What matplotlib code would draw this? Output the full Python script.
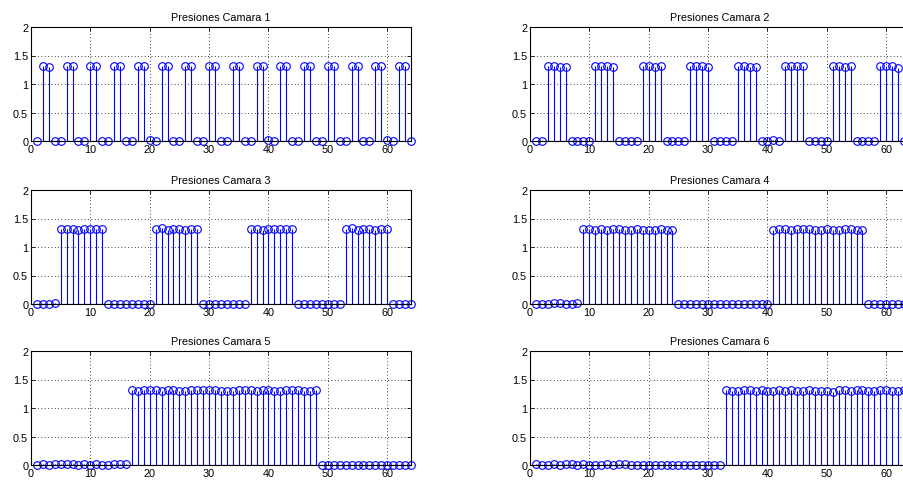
import matplotlib

matplotlib.use("Agg")
import matplotlib.pyplot as plt

# sample index 1..64 (same for all six chambers)
muestras = list(range(1, 65))

camara_1 = [0.00, 1.31, 1.29, 0.00, 0.00, 1.31, 1.31, 0.00,
            0.00, 1.31, 1.31, 0.00, 0.00, 1.31, 1.31, 0.00,
            0.00, 1.31, 1.31, 0.01, 0.00, 1.31, 1.31, 0.00,
            0.00, 1.31, 1.31, 0.00, 0.00, 1.31, 1.31, 0.00,
            0.00, 1.31, 1.31, 0.00, 0.00, 1.31, 1.31, 0.01,
            0.00, 1.31, 1.31, 0.00, 0.00, 1.31, 1.31, 0.00,
            0.00, 1.31, 1.31, 0.00, 0.00, 1.31, 1.31, 0.00,
            0.00, 1.31, 1.31, 0.01, 0.00, 1.31, 1.31, 0.00]

camara_2 = [0.00, 0.00, 1.31, 1.31, 1.29, 1.29, 0.00, 0.00,
            0.00, 0.00, 1.31, 1.31, 1.31, 1.29, 0.00, 0.00,
            0.00, 0.00, 1.31, 1.31, 1.29, 1.31, 0.00, 0.00,
            0.00, 0.00, 1.31, 1.31, 1.31, 1.29, 0.00, 0.00,
            0.00, 0.00, 1.31, 1.31, 1.29, 1.29, 0.00, 0.00,
            0.01, 0.00, 1.31, 1.31, 1.31, 1.31, 0.00, 0.00,
            0.00, 0.00, 1.31, 1.31, 1.29, 1.31, 0.00, 0.00,
            0.00, 0.00, 1.31, 1.31, 1.31, 1.28, 0.00, 0.00]

camara_3 = [0.00, 0.00, 0.00, 0.01, 1.31, 1.31, 1.31, 1.29,
            1.31, 1.31, 1.31, 1.31, 0.00, 0.00, 0.00, 0.00,
            0.00, 0.00, 0.00, 0.00, 1.31, 1.33, 1.29, 1.31,
            1.31, 1.29, 1.31, 1.31, 0.00, 0.00, 0.00, 0.00,
            0.00, 0.00, 0.00, 0.00, 1.31, 1.31, 1.29, 1.31,
            1.31, 1.31, 1.31, 1.31, 0.00, 0.00, 0.00, 0.00,
            0.00, 0.00, 0.00, 0.00, 1.31, 1.33, 1.29, 1.31,
            1.31, 1.29, 1.31, 1.31, 0.00, 0.00, 0.00, 0.00]

camara_4 = [0.00, 0.00, 0.00, 0.01, 0.01, 0.00, 0.00, 0.01,
            1.31, 1.31, 1.29, 1.31, 1.29, 1.31, 1.31, 1.29,
            1.29, 1.31, 1.29, 1.29, 1.29, 1.31, 1.29, 1.29,
            0.00, 0.00, 0.00, 0.00, 0.00, 0.00, 0.00, 0.00,
            0.00, 0.00, 0.00, 0.00, 0.00, 0.00, 0.00, 0.00,
            1.29, 1.31, 1.31, 1.29, 1.31, 1.31, 1.31, 1.29,
            1.29, 1.31, 1.29, 1.29, 1.31, 1.31, 1.29, 1.29,
            0.00, 0.00, 0.00, 0.00, 0.00, 0.00, 0.00, 0.00]

camara_5 = [0.00, 0.01, 0.00, 0.01, 0.01, 0.01, 0.01, 0.00,
            0.01, 0.00, 0.01, 0.00, 0.00, 0.01, 0.01, 0.01,
            1.31, 1.29, 1.31, 1.31, 1.31, 1.29, 1.31, 1.31,
            1.29, 1.29, 1.31, 1.31, 1.31, 1.31, 1.31, 1.29,
            1.29, 1.29, 1.31, 1.31, 1.31, 1.29, 1.31, 1.31,
            1.29, 1.29, 1.31, 1.31, 1.31, 1.29, 1.29, 1.31,
            0.00, 0.00, 0.00, 0.00, 0.00, 0.00, 0.00, 0.00,
            0.00, 0.00, 0.00, 0.00, 0.00, 0.00, 0.00, 0.00]

camara_6 = [0.01, 0.00, 0.00, 0.01, 0.00, 0.01, 0.01, 0.00,
            0.01, 0.00, 0.00, 0.00, 0.01, 0.00, 0.01, 0.01,
            0.00, 0.00, 0.00, 0.00, 0.00, 0.00, 0.00, 0.00,
            0.00, 0.00, 0.00, 0.00, 0.00, 0.00, 0.00, 0.00,
            1.31, 1.30, 1.30, 1.31, 1.31, 1.30, 1.31, 1.30,
            1.30, 1.31, 1.30, 1.31, 1.30, 1.30, 1.31, 1.30,
            1.30, 1.30, 1.28, 1.31, 1.31, 1.30, 1.31, 1.31,
            1.30, 1.30, 1.31, 1.31, 1.30, 1.30, 1.31, 1.30]

camaras = [camara_1, camara_2, camara_3, camara_4, camara_5, camara_6]
titulos = [f"Presiones Camara {k}" for k in range(1, 7)]

X_TICKS = [0, 10, 20, 30, 40, 50, 60]
Y_TICKS = [0, 0.5, 1, 1.5, 2]

plt.rcParams["font.family"] = ["Liberation Sans", "DejaVu Sans"]
plt.rcParams["font.size"] = 7.8

W, H = 904, 481
fig = plt.figure(figsize=(W / 100, H / 100), dpi=100)

AX_W, AX_H = 380, 114
lefts = [31, 530]
tops = [28, 191, 352]

for k, (vals, titulo) in enumerate(zip(camaras, titulos)):
    r, c = divmod(k, 2)
    x0, y0 = lefts[c], tops[r]
    ax = fig.add_axes([x0 / W, 1 - (y0 + AX_H) / H, AX_W / W, AX_H / H])
    mk, st, base = ax.stem(muestras, vals, linefmt="b-", markerfmt="bo",
                           basefmt="k-")
    mk.set_markerfacecolor("none")
    mk.set_markersize(5.5)
    mk.set_markeredgewidth(0.8)
    mk.set_clip_on(False)
    st.set_linewidth(0.8)
    base.set_linewidth(0.8)
    ax.set_xlim(0, 64)
    ax.set_ylim(0, 2)
    ax.set_xticks(X_TICKS)
    ax.set_yticks(Y_TICKS)
    ax.set_yticklabels(["0", "0.5", "1", "1.5", "2"])
    ax.grid(True, color="black", linestyle=(0, (1, 3)), linewidth=0.6)
    ax.set_axisbelow(True)
    ax.tick_params(direction="in", length=3, width=0.6, top=True, right=True,
                   pad=2, labelsize=7.8)
    for sp in ax.spines.values():
        sp.set_linewidth(0.8)
    ax.set_title(titulo, fontsize=7.8, pad=5)

fig.savefig("out.png", dpi=100)
